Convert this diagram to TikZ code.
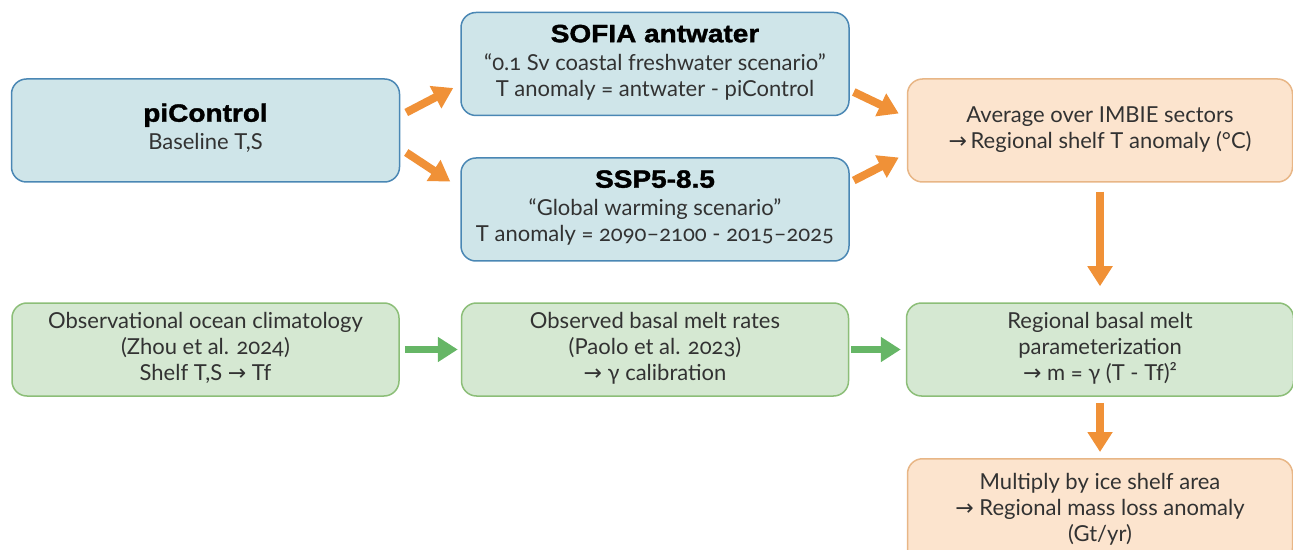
\documentclass[tikz,border=0pt]{standalone}
\usepackage{fontspec}
\setmainfont{Lato}[Numbers=OldStyle]
\newfontfamily\headfont{Liberation Sans}[BoldFeatures={FakeBold=1.5,FakeStretch=1.12}]
\newfontfamily\symfont{DejaVu Sans}
\usetikzlibrary{arrows.meta}
\definecolor{bluefill}{RGB}{207,229,233}
\definecolor{blueline}{RGB}{74,135,180}
\definecolor{greenfill}{RGB}{213,232,210}
\definecolor{greenline}{RGB}{140,190,120}
\definecolor{orangefill}{RGB}{252,228,206}
\definecolor{orangeline}{RGB}{232,182,134}
\definecolor{orangearrow}{RGB}{240,145,55}
\definecolor{greenarrow}{RGB}{102,182,102}
\definecolor{bodytext}{RGB}{50,50,50}
\newcommand{\rarr}{{\symfont\char"2192}}
\newcommand{\ttl}[1]{{\headfont\bfseries\fontsize{12.5}{15}\selectfont\color{black}#1}\\[1pt]}
\newcommand{\boxtext}[2][2pt]{\raisebox{#1}{\begin{tabular}{@{}c@{}}#2\end{tabular}}}
\tikzset{
  box/.style={rounded corners=7.5pt, line width=0.75pt, align=center,
    text=bodytext, font=\fontsize{11}{13}\selectfont, inner sep=0pt},
  bluebox/.style={box, draw=blueline, fill=bluefill, minimum width=194pt, minimum height=51.5pt},
  greenbox/.style={box, draw=greenline, fill=greenfill, minimum width=193.5pt, minimum height=46.5pt},
  orangebox/.style={box, draw=orangeline, fill=orangefill, minimum width=192.5pt, minimum height=51.5pt},
  oarrow/.style={draw=orangearrow, line width=4pt, -{Triangle[length=10pt,width=12pt]}},
  garrow/.style={draw=greenarrow, line width=3.5pt, -{Triangle[length=10pt,width=12pt]}}
}
\begin{document}
\begin{tikzpicture}[x=0.5pt,y=-0.5pt]
\useasboundingbox (0,0) rectangle (1293,550);
\clip (0,0) rectangle (1293,550);
\node[bluebox] (pic) at (205.5,130.5) {\boxtext[1.5pt]{\ttl{piControl}Baseline T,S}};
\node[bluebox] (sofia) at (655,64) {\boxtext[1.5pt]{\ttl{SOFIA antwater}\textquotedblleft 0.1 Sv coastal freshwater scenario\textquotedblright\\T anomaly = antwater - piControl}};
\node[bluebox] (ssp) at (655,209.5) {\boxtext[1.5pt]{\ttl{SSP5-8.5}\textquotedblleft Global warming scenario\textquotedblright\\T anomaly = 2090\textendash 2100 - 2015\textendash 2025}};
\node[orangebox] (avg) at (1100,130.5) {\boxtext[4pt]{Average over IMBIE sectors\\\rarr\,Regional shelf T anomaly (°C)}};
\node[greenbox] (obs) at (205.5,349.5) {\boxtext[3pt]{Observational ocean climatology\\(Zhou et al. 2024)\\Shelf T,S \rarr\ Tf}};
\node[greenbox] (melt) at (655,349.5) {\boxtext[3pt]{Observed basal melt rates\\(Paolo et al. 2023)\\\rarr\ γ calibration}};
\node[greenbox] (param) at (1100,349.5) {\boxtext[3pt]{Regional basal melt\\parameterization\\\rarr\ m = γ (T - Tf)²}};
\node[orangebox, minimum height=52pt, anchor=north] (mass) at (1100,458) {\boxtext[4pt]{Multiply by ice shelf area\\\rarr\ Regional mass loss anomaly\\(Gt/yr)}};
\draw[oarrow] ([shift={(6,-18)}]pic.east) -- ([shift={(-7,24)}]sofia.west);
\draw[oarrow] ([shift={(6,22)}]pic.east) -- ([shift={(-10,-28)}]ssp.west);
\draw[oarrow] ([shift={(4,28)}]sofia.east) -- ([shift={(-8,-17)}]avg.west);
\draw[oarrow] ([shift={(4,-29)}]ssp.east) -- ([shift={(-8,27)}]avg.west);
\draw[oarrow, shorten <=4.5pt, shorten >=8pt] (avg) -- (param);
\draw[oarrow, shorten <=3pt, shorten >=3pt] (param) -- (mass);
\draw[garrow, shorten <=2.5pt, shorten >=1.5pt] (obs) -- (melt);
\draw[garrow, shorten <=1pt, shorten >=2.5pt] (melt) -- (param);
\end{tikzpicture}
\end{document}
